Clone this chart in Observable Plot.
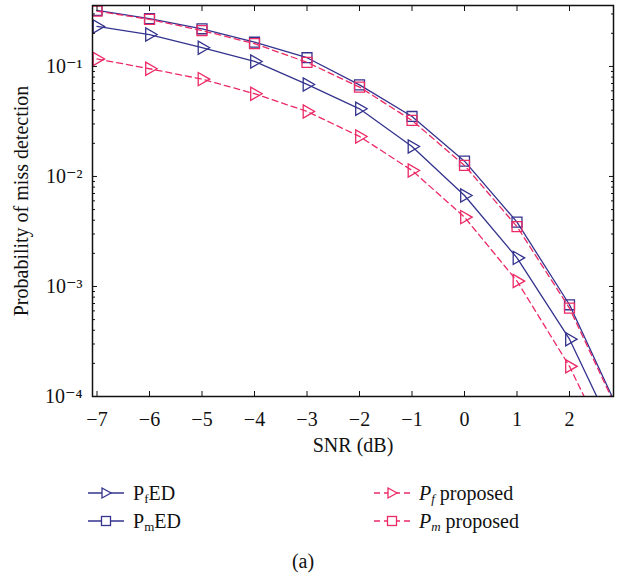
<!DOCTYPE html>
<html><head><meta charset="utf-8">
<script src="https://cdn.jsdelivr.net/npm/d3@7"></script>
<script src="https://cdn.jsdelivr.net/npm/@observablehq/plot@0.6"></script>
<style>
body{margin:0;background:#fff;font-family:"Liberation Serif","DejaVu Serif",serif;color:#111;}
#wrap{position:relative;width:621px;height:575px;overflow:hidden;}
#chart{position:absolute;left:0;top:0;}
#chart svg text{font-family:"Liberation Serif","DejaVu Serif",serif !important;font-size:20px !important;}
.leg{position:absolute;font-size:20px;line-height:20px;white-space:nowrap;display:flex;align-items:center;}
.leg svg{margin-right:9px;}
.leg sub{font-size:13px;vertical-align:-3px;line-height:0;}
#cap{position:absolute;left:0;width:606px;text-align:center;top:550px;font-size:20px;}
</style></head><body>
<div id="wrap"><div id="chart"></div>
<div id="legend"></div>
<div id="cap">(a)</div>
</div>
<script>
// ---- data ----
const snr = [-7, -6, -5, -4, -3, -2, -1, 0, 1, 2, 3];
const pfED = [0.231, 0.195, 0.148, 0.111, 0.0686, 0.0412, 0.0187, 0.00671, 0.00182, 0.000332, 0.000033];
const pmED = [0.323, 0.272, 0.220, 0.166, 0.120, 0.068, 0.0351, 0.01377, 0.00385, 0.000682, 0.000064];
const pfProposed = [0.117, 0.0953, 0.0767, 0.0565, 0.039, 0.0231, 0.01134, 0.00427, 0.00112, 0.000188, 0.0000195];
const pmProposed = [0.318, 0.268, 0.212, 0.161, 0.109, 0.0649, 0.0323, 0.0126, 0.0035, 0.000635, 0.000061];
const seriesNames = ["PfED", "PmED", "Pf proposed", "Pm proposed"];
const xTicks = [-7, -6, -5, -4, -3, -2, -1, 0, 1, 2];
const yTicks = [1e-4, 1e-3, 1e-2, 1e-1];
const yTickLabels = ["10\u207B\u2074", "10\u207B\u00B3", "10\u207B\u00B2", "10\u207B\u00B9"];

const BLUE = "#34338e";
const RED = "#ec2a66";
const FONT = '"Liberation Serif","DejaVu Serif",serif';

const styles = [
  {values: pfED, stroke: BLUE, dash: null, symbol: "triangle"},
  {values: pmED, stroke: BLUE, dash: null, symbol: "square"},
  {values: pfProposed, stroke: RED, dash: "6,4", symbol: "triangle"},
  {values: pmProposed, stroke: RED, dash: "6,4", symbol: "square"}
];

const minorTicks = [];
for (let e = -4; e <= -1; e++) for (let m = 2; m <= 9; m++) {
  const v = m * Math.pow(10, e);
  if (v <= 0.358) minorTicks.push(v);
}
const fmtX = d => d < 0 ? "\u2212" + Math.abs(d) : String(d);
const fmtY = d => yTickLabels[yTicks.indexOf(d)];

const marks = [];
styles.forEach((s, k) => {
  const data = snr.map((x, i) => ({snr: x, p: s.values[i], name: seriesNames[k]}));
  marks.push(Plot.line(data, {x: "snr", y: "p", stroke: s.stroke, strokeWidth: 1.3, strokeDasharray: s.dash, clip: true}));
  marks.push(Plot.dot(data.filter(d => d.snr <= 2), {x: "snr", y: "p", stroke: s.stroke, fill: "none", strokeWidth: 1.3,
    symbol: s.symbol, r: s.symbol === "square" ? 5.6 : 4.9, rotate: s.symbol === "triangle" ? 90 : 0, clip: true}));
});

const tk = 5;
const chart = Plot.plot({
  width: 621, height: 465,
  marginLeft: 92, marginRight: 8, marginTop: 5, marginBottom: 69,
  style: `font-family: ${FONT}; font-size: 20px; background: white; color: #111;`,
  x: {domain: [-7.086, 2.838]},
  y: {type: "log", domain: [1e-4, 0.358]},
  marks: [
    ...marks,
    // inward ticks
    Plot.axisX({anchor: "bottom", ticks: xTicks, tickSize: tk, dy: -tk, tickFormat: () => "", label: null}),
    Plot.axisX({anchor: "top", ticks: xTicks, tickSize: tk, dy: tk, tickFormat: () => "", label: null}),
    Plot.axisY({anchor: "left", ticks: yTicks, tickSize: tk, dx: tk, tickFormat: () => "", label: null}),
    Plot.axisY({anchor: "right", ticks: yTicks, tickSize: tk, dx: -tk, tickFormat: () => "", label: null}),
    Plot.axisY({anchor: "left", ticks: minorTicks, tickSize: 3, dx: 3, tickFormat: () => "", label: null}),
    Plot.axisY({anchor: "right", ticks: minorTicks, tickSize: 3, dx: -3, tickFormat: () => "", label: null}),
    // labels
    Plot.axisX({anchor: "bottom", ticks: xTicks, tickSize: 0, tickPadding: 15, tickFormat: fmtX, fontSize: 20, fontFamily: FONT,
      label: "SNR (dB)", labelAnchor: "center", labelOffset: 55, labelArrow: "none"}),
    Plot.axisY({anchor: "left", ticks: yTicks, tickSize: 0, tickPadding: 10, tickFormat: fmtY, fontSize: 20, fontFamily: FONT,
      label: "Probability of miss detection", labelAnchor: "center", labelOffset: 79, labelArrow: "none"}),
    Plot.frame({stroke: "#111", strokeWidth: 1.5})
  ]
});
document.getElementById("chart").appendChild(chart);

// legend
function swatch(s) {
  const w = 36, h = 14, cy = 7, cx = 18;
  let sym;
  if (s.symbol === "triangle") sym = `<path d="M${cx-4},${cy-5}L${cx+5},${cy}L${cx-4},${cy+5}Z" fill="white" stroke="${s.stroke}" stroke-width="1.3"/>`;
  else sym = `<rect x="${cx-4.5}" y="${cy-4.5}" width="9" height="9" fill="white" stroke="${s.stroke}" stroke-width="1.3"/>`;
  const dash = s.dash ? `stroke-dasharray="6,4" stroke-dashoffset="0"` : "";
  return `<svg width="${w}" height="${h}"><line x1="0" x2="${w}" y1="${cy}" y2="${cy}" stroke="${s.stroke}" stroke-width="1.3" ${dash}/>${sym}</svg>`;
}
const legendHTML = [
  {x: 88, y: 483, s: styles[0], html: 'P<sub>f</sub>ED'},
  {x: 88, y: 511, s: styles[1], html: 'P<sub>m</sub>ED'},
  {x: 374, y: 483, s: styles[2], html: '<i>P<sub>f</sub></i>&nbsp;proposed'},
  {x: 374, y: 511, s: styles[3], html: '<i>P<sub>m</sub></i>&nbsp;proposed'}
];
const lg = document.getElementById("legend");
legendHTML.forEach(it => {
  const d = document.createElement("div");
  d.className = "leg";
  d.style.left = it.x + "px"; d.style.top = it.y + "px";
  d.innerHTML = swatch(it.s) + `<span>${it.html}</span>`;
  lg.appendChild(d);
});
</script>
</body></html>
